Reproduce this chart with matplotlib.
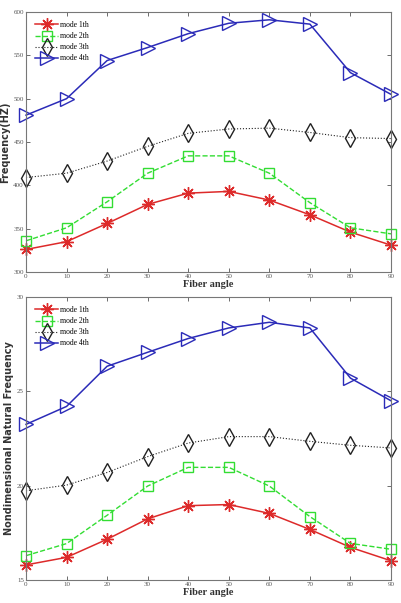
import matplotlib
matplotlib.use('Agg')
import matplotlib.pyplot as plt

# fiber angles
angles = [0, 10, 20, 30, 40, 50, 60, 70, 80, 90]

# natural frequencies (Hz)
freq_mode1 = [326, 335, 356, 378, 391, 393, 383, 366, 346, 331]
freq_mode2 = [336, 351, 381, 414, 434, 434, 414, 380, 351, 344]
freq_mode3 = [409, 414, 428, 445, 460, 465, 466, 461, 455, 454]
freq_mode4 = [481, 500, 544, 559, 575, 587, 591, 586, 530, 505]

# nondimensional natural frequencies
nd_mode1 = [15.8, 16.2, 17.16, 18.24, 18.94, 19.0, 18.53, 17.68, 16.73, 16.02]
nd_mode2 = [16.29, 16.93, 18.43, 19.98, 20.97, 20.97, 19.98, 18.36, 16.94, 16.63]
nd_mode3 = [19.73, 20.03, 20.7, 21.54, 22.26, 22.6, 22.6, 22.35, 22.14, 22.0]
nd_mode4 = [23.25, 24.2, 26.33, 27.07, 27.8, 28.36, 28.66, 28.36, 25.7, 24.5]

labels = ['mode 1th', 'mode 2th', 'mode 3th', 'mode 4th']
colors = ['#dd2a2a', '#33dd33', '#222222', '#2b2bb8']
markers = [(8, 2, 0), 's', 'd', '>']  # (8,2,0) -> asterisk like matlab '*'
styles = ['-', '--', ':', '-']
msizes = [9, 7, 9, 10]
lwidths = [1.1, 1.0, 0.8, 1.1]

plt.rcParams['font.family'] = ['Liberation Serif', 'DejaVu Serif']

fig = plt.figure(figsize=(4.01, 6.03), dpi=100)
ax1 = fig.add_axes([26 / 401, 1 - 272 / 603, 365 / 401, 260 / 603])
ax2 = fig.add_axes([26 / 401, 1 - 580 / 603, 365 / 401, 283 / 603])


def draw(ax, series, ylim, yticks, ylabel):
    for i, ys in enumerate(series):
        ax.plot(angles, ys, linestyle=styles[i], color=colors[i], marker=markers[i],
                markersize=msizes[i], markerfacecolor='none', markeredgecolor=colors[i],
                markeredgewidth=1.0, linewidth=lwidths[i], label=labels[i], clip_on=False)
    ax.set_xlim(0, 90)
    ax.set_ylim(*ylim)
    ax.set_xticks(angles)
    ax.set_yticks(yticks)
    ax.tick_params(direction='in', top=True, right=True, labelsize=5, length=3,
                   width=0.6, pad=1.5, colors='#555555')
    for s in ax.spines.values():
        s.set_color('#777777')
        s.set_linewidth(0.8)
    ax.set_xlabel('Fiber angle', fontsize=7.5, fontweight='bold', labelpad=1, color='#333333')
    ax.set_ylabel(ylabel, fontsize=7, fontweight='bold', labelpad=2, color='#333333',
                  family=['DejaVu Sans'])
    ax.legend(loc='upper left', frameon=False, fontsize=5.5, handlelength=3,
              borderaxespad=0.8, labelspacing=0.4, handletextpad=0.3)


draw(ax1, [freq_mode1, freq_mode2, freq_mode3, freq_mode4], (300, 600),
     [300, 350, 400, 450, 500, 550, 600], 'Frequency(HZ)')
draw(ax2, [nd_mode1, nd_mode2, nd_mode3, nd_mode4], (15, 30),
     [15, 20, 25, 30], 'Nondimensional Natural Frequency')

fig.savefig('out.png', dpi=100)
